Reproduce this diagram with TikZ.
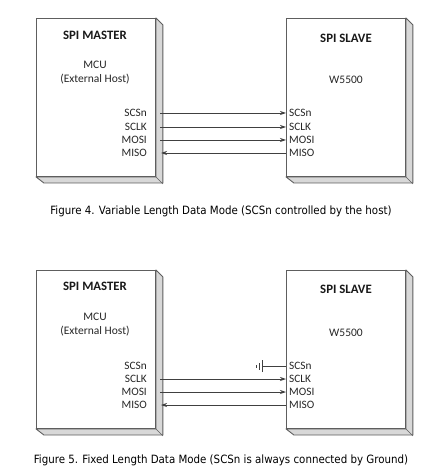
\documentclass[tikz,border=0pt]{standalone}
\usepackage{fontspec}
\setmainfont{Carlito}
\newfontfamily\capfont{DejaVu Sans Condensed}
\usetikzlibrary{arrows.meta}
\definecolor{boxline}{HTML}{5E5E5E}
\definecolor{sidefill}{HTML}{D8D8D8}
\definecolor{wire}{HTML}{404040}
\begin{document}
\begin{tikzpicture}[x=1pt,y=-1pt,
  front/.style={draw=boxline,fill=white,line width=0.9pt,minimum width=119pt,minimum height=158pt,inner sep=0pt,anchor=north west},
  side/.style={draw=boxline,fill=sidefill,line width=0.9pt,line join=round},
  title/.style={font=\bfseries\fontsize{12.8}{15}\selectfont,text=black!90},
  sub/.style={font=\fontsize{11.5}{14}\selectfont,text=black!85,align=center},
  mpin/.style={font=\fontsize{11.3}{13}\selectfont,text=black!85,anchor=east,inner sep=1pt},
  spin/.style={font=\fontsize{11.3}{13}\selectfont,text=black!85,anchor=west,inner sep=3pt},
  wireline/.style={draw=wire,line width=0.8pt},
  arr/.style={wireline,-{Stealth[length=6pt,width=4pt]}},
  captext/.style={font=\capfont\fontsize{11.4}{13}\selectfont,text=black}
]
\useasboundingbox (0,0) rectangle (444,470);

% ---------- Figure 4 ----------
\node[front] (m1) at (36,18) {};
\draw[side] (m1.north east) -- ++(7,7) -- ++(0,158) -- ++(-119,0) -- (m1.south west) -- (m1.south east) -- cycle;
\draw[boxline,line width=0.6pt] (m1.south east) -- ++(7,7);
\node[front] (m1f) at (36,18) {};
\node[title] (m1t) at (95,35) {SPI MASTER};
\node[sub] (m1s) at (95,73) {MCU\\(External Host)};

\node[front] (s1) at (286,18) {};
\draw[side] (s1.north east) -- ++(7,7) -- ++(0,158) -- ++(-119,0) -- (s1.south west) -- (s1.south east) -- cycle;
\draw[boxline,line width=0.6pt] (s1.south east) -- ++(7,7);
\node[front] (s1f) at (286,18) {};
\node[title] (s1t) at (346,38) {SPI SLAVE};
\node[sub] (s1s) at (346,80) {W5500};

\node[mpin] (ma1) at (148,113) {SCSn};
\node[mpin] (mb1) at (148,127) {SCLK};
\node[mpin] (mc1) at (148,140) {MOSI};
\node[mpin] (md1) at (148,153) {MISO};
\node[spin] (sa1) at (286,113) {SCSn};
\node[spin] (sb1) at (286,127) {SCLK};
\node[spin] (sc1) at (286,140) {MOSI};
\node[spin] (sd1) at (286,153) {MISO};
\draw[arr] ([xshift=12pt]ma1.east) -- (sa1.west);
\draw[arr] ([xshift=12pt]mb1.east) -- (sb1.west);
\draw[arr] ([xshift=12pt]mc1.east) -- (sc1.west);
\draw[arr] (sd1.west) -- ([xshift=13pt]md1.east);

\node[captext] (c1) at (221,211) {Figure 4. Variable Length Data Mode (SCSn controlled by the host)};

% ---------- Figure 5 ----------
\node[front] (m2) at (36,270) {};
\draw[side] (m2.north east) -- ++(7,7) -- ++(0,158) -- ++(-119,0) -- (m2.south west) -- (m2.south east) -- cycle;
\draw[boxline,line width=0.6pt] (m2.south east) -- ++(7,7);
\node[front] (m2f) at (36,270) {};
\node[title] (m2t) at (95,286) {SPI MASTER};
\node[sub] (m2s) at (95,325) {MCU\\(External Host)};

\node[front] (s2) at (286,270) {};
\draw[side] (s2.north east) -- ++(7,7) -- ++(0,158) -- ++(-119,0) -- (s2.south west) -- (s2.south east) -- cycle;
\draw[boxline,line width=0.6pt] (s2.south east) -- ++(7,7);
\node[front] (s2f) at (286,270) {};
\node[title] (s2t) at (346,289) {SPI SLAVE};
\node[sub] (s2s) at (346,333) {W5500};

\node[mpin] (ma2) at (148,366) {SCSn};
\node[mpin] (mb2) at (148,379) {SCLK};
\node[mpin] (mc2) at (148,392) {MOSI};
\node[mpin] (md2) at (148,405) {MISO};
\node[spin] (sa2) at (286,366) {SCSn};
\node[spin] (sb2) at (286,379) {SCLK};
\node[spin] (sc2) at (286,392) {MOSI};
\node[spin] (sd2) at (286,405) {MISO};
\draw[arr] ([xshift=12pt]mb2.east) -- (sb2.west);
\draw[arr] ([xshift=12pt]mc2.east) -- (sc2.west);
\draw[arr] (sd2.west) -- ([xshift=13pt]md2.east);

% ground symbol
\coordinate (g2) at (262,366);
\draw[wireline] (sa2.west) -- (g2);
\draw[wireline] ([yshift=-6pt]g2) -- ([yshift=6pt]g2);
\draw[wireline] ([xshift=-3pt,yshift=-3.5pt]g2) -- ([xshift=-3pt,yshift=3.5pt]g2);
\draw[wireline] ([xshift=-6pt,yshift=-1.5pt]g2) -- ([xshift=-6pt,yshift=1.5pt]g2);

\node[captext] (c2) at (221,460) {Figure 5. Fixed Length Data Mode (SCSn is always connected by Ground)};
\end{tikzpicture}
\end{document}
